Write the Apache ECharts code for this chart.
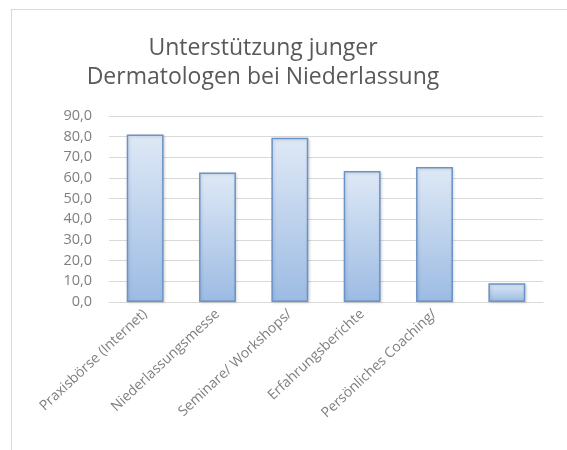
<!DOCTYPE html>
<html>
<head>
<meta charset="utf-8">
<script src="https://cdn.jsdelivr.net/npm/echarts@6/dist/echarts.min.js"></script>
<style>
  html, body { margin: 0; padding: 0; background: #fff; }
  #frame { position: absolute; left: 11px; top: 9px; width: 580px; height: 470px;
           border-left: 1px solid #d9d9d9; border-top: 1px solid #d9d9d9; }
  #chart { position: absolute; left: 0; top: 0; width: 567px; height: 450px; }
</style>
</head>
<body>
<div id="frame"></div>
<div id="chart"></div>
<script>
// Daten
var categories = ['Praxisbörse (Internet)', 'Niederlassungsmesse', 'Seminare/ Workshops/', 'Erfahrungsberichte', 'Persönliches Coaching/', ''];
var values = [81.1, 62.7, 79.5, 63.4, 65.3, 9.1];

var myChart = echarts.init(document.getElementById('chart'));
var option = {
  animation: false,
  title: {
    text: 'Unterstützung junger\nDermatologen bei Niederlassung',
    left: 258,
    textAlign: 'center',
    top: 29,
    textStyle: {
      fontFamily: 'Open Sans',
      fontSize: 23,
      fontWeight: 'normal',
      color: '#595959',
      lineHeight: 29
    }
  },
  grid: { left: 109, right: 24, top: 116, bottom: 148 },
  xAxis: {
    type: 'category',
    data: categories,
    axisLine: { lineStyle: { color: '#d9d9d9' } },
    axisTick: { show: false },
    axisLabel: {
      interval: 0,
      rotate: 43,
      margin: 10,
      fontFamily: 'Open Sans',
      fontSize: 14,
      color: '#7f7f7f'
    }
  },
  yAxis: {
    type: 'value',
    min: 0,
    max: 90,
    interval: 10,
    axisLine: { show: false },
    axisTick: { show: false },
    splitLine: { lineStyle: { color: '#d9d9d9' } },
    axisLabel: {
      margin: 17,
      fontFamily: 'Open Sans',
      fontSize: 14.5,
      color: '#7f7f7f',
      formatter: function(v) { return v.toFixed(1).replace('.', ','); }
    }
  },
  series: [{
    type: 'bar',
    data: values,
    barWidth: '51%',
    itemStyle: {
      color: new echarts.graphic.LinearGradient(0, 0, 0, 1, [
        { offset: 0, color: '#dfe9f6' },
        { offset: 1, color: '#9cbbe3' }
      ]),
      borderColor: '#6a93c9',
      borderWidth: 1.5,
      shadowColor: 'rgba(0,0,0,0.15)',
      shadowBlur: 3,
      shadowOffsetX: 1,
      shadowOffsetY: 1
    }
  }]
};
myChart.setOption(option);
</script>
</body>
</html>
